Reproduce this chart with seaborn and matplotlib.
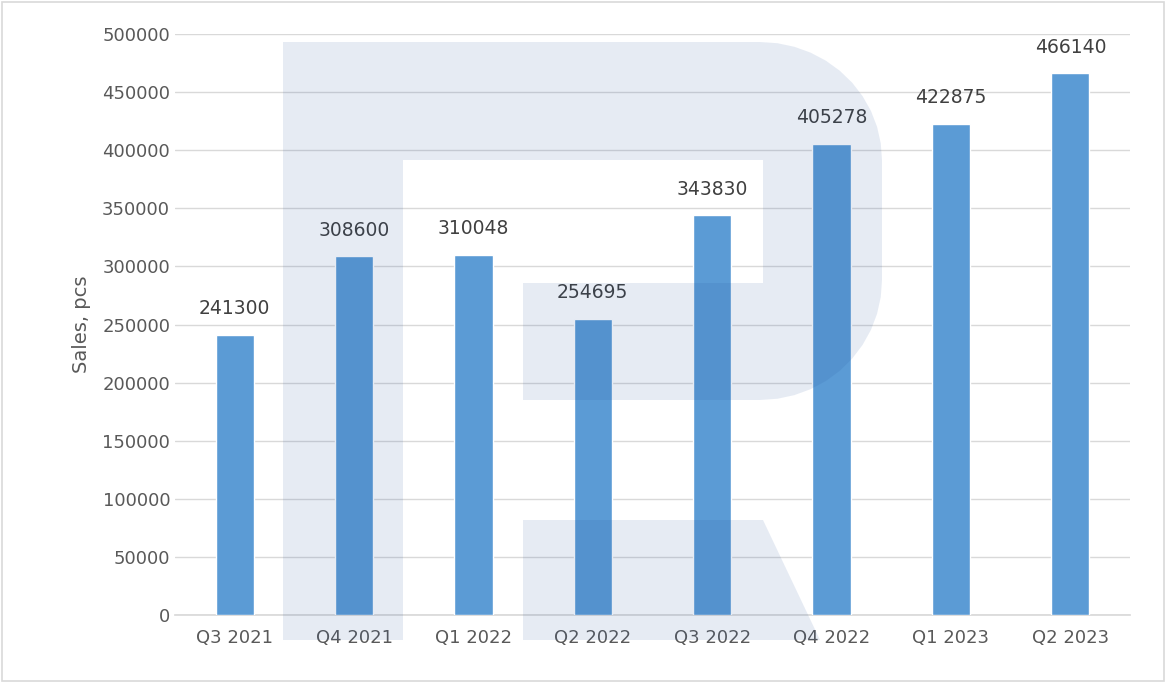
import numpy as np
import pandas as pd
import seaborn as sns
import matplotlib.pyplot as plt
from matplotlib.patches import Polygon, Rectangle

quarters = ['Q3 2021', 'Q4 2021', 'Q1 2022', 'Q2 2022', 'Q3 2022', 'Q4 2022', 'Q1 2023', 'Q2 2023']
sales = [241300, 308600, 310048, 254695, 343830, 405278, 422875, 466140]

W, H = 1166, 683
sns.set_theme(style='white')
plt.rcParams['font.family'] = ['DejaVu Sans']
fig = plt.figure(figsize=(W / 100, H / 100), dpi=100)
ax = fig.add_axes([175 / W, 1 - 615 / H, (1130 - 175) / W, (615 - 34) / H])


def px(points):
    return [(x / W, 1 - y / H) for x, y in points]


df = pd.DataFrame({'quarter': quarters, 'sales': sales})
sns.barplot(data=df, x='quarter', y='sales', color='#5B9BD5', saturation=1,
            width=0.32, ax=ax, zorder=3)
ax.bar_label(ax.containers[0], labels=[str(v) for v in sales], padding=12,
             fontsize=13.5, color='#404040')

ax.set_ylim(0, 500000)
ax.set_yticks(range(0, 500001, 50000))
ax.grid(axis='y', color='#d9d9d9', lw=1, zorder=1)
ax.set_axisbelow(True)
for s in ['top', 'right', 'left']:
    ax.spines[s].set_visible(False)
ax.spines['bottom'].set_color('#d9d9d9')
ax.tick_params(axis='both', colors='#595959', labelsize=13, length=0)
ax.tick_params(axis='x', pad=10)
ax.set_xlabel('')
ax.set_ylabel('Sales, pcs', fontsize=14, color='#595959', labelpad=8)

# translucent watermark logo over the chart
wm = dict(facecolor='#1f4e9a', alpha=0.11, edgecolor='none', transform=fig.transFigure, zorder=10)
bowl_top = [(760 + 122 * np.sin(t), 160 - 118 * np.cos(t)) for t in np.linspace(0, np.pi / 2, 12)]
bowl_bot = [(760 + 122 * np.cos(t), 280 + 120 * np.sin(t)) for t in np.linspace(0, np.pi / 2, 12)]
outline = [(283, 640), (283, 42)] + bowl_top + bowl_bot + [
    (523, 400), (523, 283), (763, 283), (763, 160), (403, 160), (403, 640)]
fig.add_artist(Polygon(px(outline), closed=True, **wm))
fig.add_artist(Polygon(px([(523, 520), (763, 520), (820, 640), (523, 640)]), closed=True, **wm))
fig.add_artist(Rectangle((2 / W, 2 / H), 1 - 4 / W, 1 - 4 / H, transform=fig.transFigure,
                         facecolor='none', edgecolor='#d9d9d9', lw=1.2, zorder=11))

fig.savefig('out.png', dpi=100)
